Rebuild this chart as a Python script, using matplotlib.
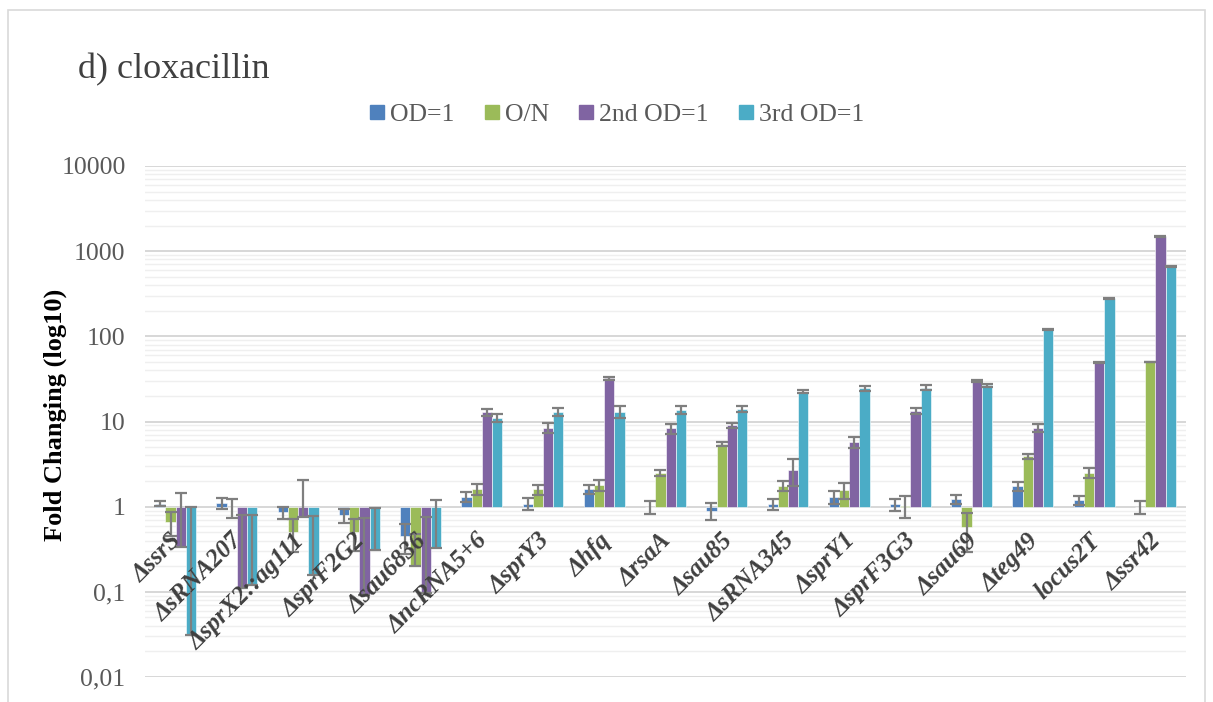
import matplotlib
matplotlib.use("Agg")
import matplotlib.pyplot as plt
import numpy as np
from matplotlib.patches import Rectangle
from matplotlib.lines import Line2D
from matplotlib.ticker import FixedLocator, NullFormatter

categories = ['ΔssrS', 'ΔsRNA207', 'ΔsprX2::ag111', 'ΔsprF2G2', 'Δsau6836',
              'ΔncRNA5+6', 'ΔsprY3', 'Δhfq', 'ΔrsaA', 'Δsau85', 'ΔsRNA345',
              'ΔsprY1', 'ΔsprF3G3', 'Δsau69', 'Δteg49', 'locus2T', 'Δssr42']
series_names = ['OD=1', 'O/N', '2nd OD=1', '3rd OD=1']

od1 = [1.08, 1.10, 0.86, 0.80, 0.45, 1.30, 1.08, 1.60, 0.99, 0.89, 1.08, 1.30, 1.07, 1.22, 1.75, 1.20, 1.00]
od1_err = [0.07, 0.17, 0.14, 0.15, 0.17, 0.18, 0.17, 0.18, 0.16, 0.20, 0.16, 0.22, 0.17, 0.15, 0.22, 0.14, 0.17]
on = [0.66, 0.98, 0.50, 0.51, 0.20, 1.62, 1.60, 1.80, 2.50, 5.50, 1.75, 1.57, 1.03, 0.57, 3.90, 2.50, 50]
on_err = [0.21, 0.25, 0.21, 0.21, 0.28, 0.24, 0.22, 0.26, 0.23, 0.30, 0.23, 0.33, 0.30, 0.28, 0.30, 0.33, 0.5]
second = [0.34, 0.11, 0.75, 0.091, 0.097, 12.8, 8.5, 32, 8.3, 9.0, 2.7, 5.8, 13.4, 30, 8.4, 49, 1500]
second_err = [1.1, 0.68, 1.3, 0.64, 0.66, 1.2, 1.1, 1.4, 1.1, 0.6, 0.94, 0.85, 1.1, 1.1, 0.95, 1.0, 20]
third = [0.031, 0.12, 0.157, 0.31, 0.33, 11.1, 13, 13.1, 13.6, 14, 22.5, 24.5, 25, 26.5, 121, 280, 660]
third_err = [0.97, 0.67, 0.61, 0.65, 0.86, 1.3, 1.3, 2.0, 1.5, 1.1, 1.0, 1.5, 1.6, 1.0, 2, 3, 8]

y_ticks = [0.01, 0.1, 1, 10, 100, 1000, 10000]
y_tick_labels = ['0,01', '0,1', '1', '10', '100', '1000', '10000']

colors = ['#4F81BD', '#9BBB59', '#8064A2', '#4BACC6']

plt.rcParams['font.family'] = ['Liberation Serif', 'DejaVu Serif']

fig = plt.figure(figsize=(12.13, 7.02), dpi=100)
fig.patches.append(Rectangle((8 / 1213, -0.01), (1205 - 8) / 1213, 1 - 10 / 702 + 0.01,
                             transform=fig.transFigure, fill=False,
                             edgecolor='#d9d9d9', linewidth=1.2))

ax = fig.add_axes([145 / 1213, 1 - 677 / 702, (1186 - 145) / 1213, (677 - 166) / 702])
ax.set_yscale('log')
ax.set_ylim(0.01, 10000)
n = len(categories)
x = np.arange(n)
ax.set_xlim(-0.5, n - 0.5)

# grid
for d in range(-2, 4):
    for m in range(2, 10):
        ax.axhline(m * 10.0 ** d, color='#efefef', lw=1.0, zorder=0)
for t in y_ticks:
    ax.axhline(t, color='#d4d4d4', lw=1.3, zorder=0.2)

w = 0.167
data = [(od1, od1_err), (on, on_err), (second, second_err), (third, third_err)]
for k, (vals, errs) in enumerate(data):
    vals = np.array(vals, dtype=float)
    errs = np.array(errs, dtype=float)
    xs = x + (k - 1.5) * w
    ax.bar(xs, vals - 1, bottom=1, width=w, color=colors[k], edgecolor='white',
           linewidth=0.4, zorder=2, label=series_names[k])
    lower = np.where(errs < vals * 0.98, errs, 0.0)
    ax.errorbar(xs, vals, yerr=[lower, errs], fmt='none', ecolor='#7f7f7f',
                elinewidth=1.6, capsize=4.5, capthick=1.6, zorder=3)

for s in ax.spines.values():
    s.set_visible(False)
ax.yaxis.set_major_locator(FixedLocator(y_ticks))
ax.set_yticklabels(y_tick_labels)
ax.yaxis.set_minor_formatter(NullFormatter())
ax.tick_params(axis='y', which='both', length=0, pad=14, labelsize=18.5, labelcolor='#595959')
ax.set_xticks([])

for i, lab in enumerate(categories):
    ax.annotate(lab, xy=(i, 1), xytext=(-4, -16), textcoords='offset points',
                rotation=45, rotation_mode='anchor', ha='right', va='top',
                fontsize=18, fontweight='bold', fontstyle='italic', color='#404040',
                zorder=5, annotation_clip=False)

fig.text(55 / 1213, 1 - 415 / 702, 'Fold Changing (log10)', rotation=90,
         ha='center', va='center', fontsize=19, fontweight='bold', color='black')

fig.text(78 / 1213, 1 - 70 / 702, 'd) cloxacillin', ha='left', va='center',
         fontsize=26, color='#404040')

handles = [Line2D([], [], marker='s', ls='', color=c, markersize=9.5) for c in colors]
fig.legend(handles, series_names, loc='center', bbox_to_anchor=(616 / 1213, 1 - 115 / 702),
           ncol=4, frameon=False, fontsize=18.5, handlelength=0.7,
           handletextpad=0.15, columnspacing=1.1, labelcolor='#595959')

fig.savefig('out.png', dpi=100)
